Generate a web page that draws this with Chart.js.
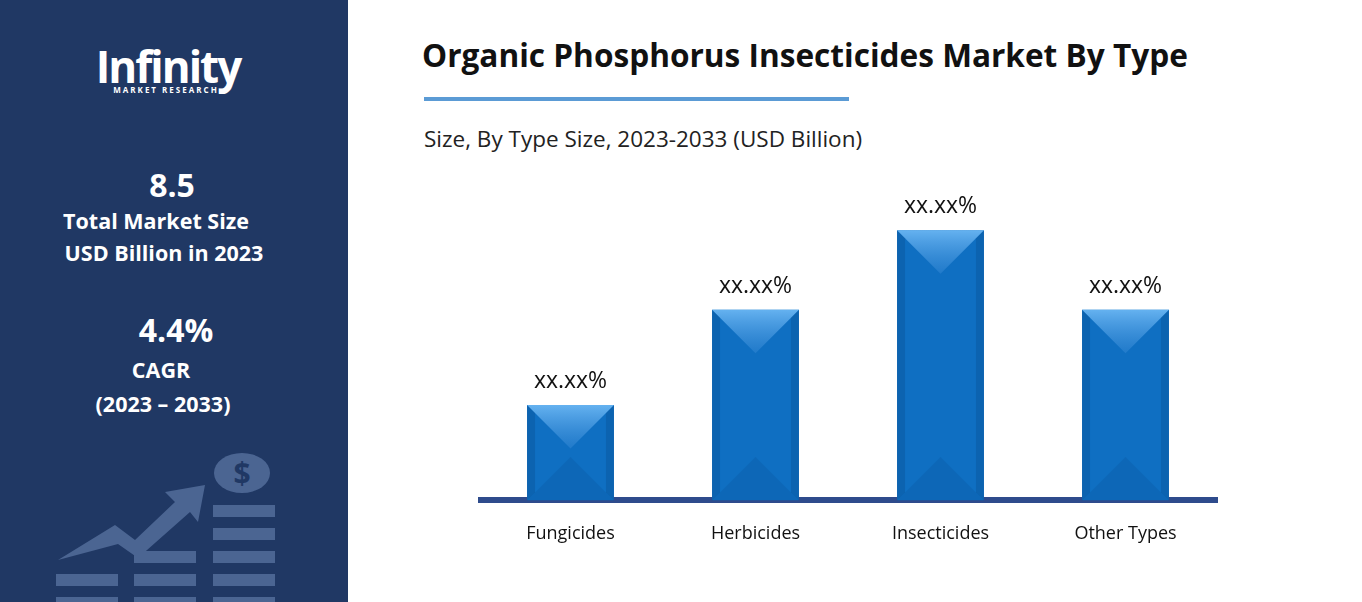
<!DOCTYPE html>
<html>
<head>
<meta charset="utf-8">
<script src="https://cdn.jsdelivr.net/npm/chart.js@4.4.0/dist/chart.umd.min.js"></script>
<style>
  body { margin: 0; width: 1362px; height: 602px; background: #fff; position: relative; overflow: hidden; font-family: "Open Sans", sans-serif; }
  #side { position: absolute; left: 0; top: 0; width: 348px; height: 602px; background: #203864; color: #fff; }
  #side .t { position: absolute; width: 100%; text-align: center; font-weight: bold; }
  #title { position: absolute; left: 422px; top: 33px; font-size: 31.6px; font-weight: bold; color: #111; }
  #rule { position: absolute; left: 424px; top: 97px; width: 425px; height: 4px; background: #5b9bd5; }
  #sub { position: absolute; left: 424px; top: 123px; font-size: 22.5px; color: #222; }
  #wrap { position: absolute; left: 478px; top: 180px; width: 740px; height: 380px; }
</style>
</head>
<body>
<div id="side">
  <div class="t" style="top:36px;left:-6px;font-size:44px;letter-spacing:-2px;">Infinity</div>
  <div class="t" style="top:84px;left:-8px;font-size:8px;letter-spacing:2px;">MARKET RESEARCH</div>
  <div class="t" style="top:163px;left:-2px;font-size:32px;">8.5</div>
  <div class="t" style="top:206px;left:-18px;font-size:21.5px;">Total Market Size</div>
  <div class="t" style="top:238px;left:-10px;font-size:21.5px;">USD Billion in 2023</div>
  <div class="t" style="top:308px;left:2px;font-size:32px;">4.4%</div>
  <div class="t" style="top:355px;left:-13px;font-size:21.5px;">CAGR</div>
  <div class="t" style="top:389px;left:-11px;font-size:21.5px;">(2023 – 2033)</div>
  <svg style="position:absolute;left:0;top:440px" width="348" height="162" fill="#4b6592">
    <ellipse cx="242" cy="33" rx="28" ry="20"/>
    <text x="242" y="44" text-anchor="middle" font-size="30" font-weight="bold" fill="#203864">$</text>
    <rect x="213" y="65" width="62" height="12"/><rect x="213" y="88" width="62" height="12"/>
    <rect x="213" y="111" width="62" height="12"/><rect x="213" y="134" width="62" height="12"/>
    <rect x="213" y="157" width="62" height="8"/>
    <rect x="134" y="111" width="62" height="12"/><rect x="134" y="134" width="62" height="12"/><rect x="134" y="157" width="62" height="8"/>
    <rect x="56" y="134" width="62" height="12"/><rect x="56" y="157" width="62" height="8"/>
    <polygon points="58,120 115,85 135,100 175,62 165,52 205,45 198,82 190,72 138,118 118,104"/>
  </svg>
</div>
<div id="title">Organic Phosphorus Insecticides Market By Type</div>
<div id="rule"></div>
<div id="sub">Size, By Type Size, 2023-2033 (USD Billion)</div>
<div id="wrap"><canvas id="myChart"></canvas></div>
<script>
const categories = ['Fungicides', 'Herbicides', 'Insecticides', 'Other Types'];
const values = [1.8, 3.6, 5.1, 3.6];
const valueLabels = ['xx.xx%', 'xx.xx%', 'xx.xx%', 'xx.xx%'];

const bevel = {
    id: 'bevel',
    afterDatasetsDraw(chart) {
        const ctx = chart.ctx;
        chart.getDatasetMeta(0).data.forEach((bar, i) => {
            const l = bar.x - bar.width / 2, r = bar.x + bar.width / 2, t = bar.y, b = bar.base;
            const d = Math.min(bar.width / 2, (b - t) / 2);
            const e = 8;
            ctx.save();
            const g = ctx.createLinearGradient(0, t, 0, t + d);
            g.addColorStop(0, 'rgba(110,185,245,0.9)');
            g.addColorStop(1, 'rgba(60,140,215,0.4)');
            ctx.fillStyle = g;
            ctx.beginPath(); ctx.moveTo(l, t); ctx.lineTo(r, t); ctx.lineTo(bar.x, t + d); ctx.closePath(); ctx.fill();
            ctx.fillStyle = 'rgba(0,40,90,0.16)';
            ctx.beginPath(); ctx.moveTo(l, t); ctx.lineTo(l + e, t + e); ctx.lineTo(l + e, b - e); ctx.lineTo(l, b); ctx.closePath(); ctx.fill();
            ctx.beginPath(); ctx.moveTo(r, t); ctx.lineTo(r - e, t + e); ctx.lineTo(r - e, b - e); ctx.lineTo(r, b); ctx.closePath(); ctx.fill();
            ctx.fillStyle = 'rgba(0,40,90,0.10)';
            ctx.beginPath(); ctx.moveTo(l, b); ctx.lineTo(r, b); ctx.lineTo(bar.x, b - d); ctx.closePath(); ctx.fill();
            ctx.fillStyle = '#111';
            ctx.font = '23px "Open Sans", sans-serif';
            ctx.textAlign = 'center';
            ctx.textBaseline = 'bottom';
            ctx.fillText(valueLabels[i], bar.x, t - 12);
            ctx.restore();
        });
    }
};

new Chart(document.getElementById('myChart').getContext('2d'), {
    type: 'bar',
    data: {
        labels: categories,
        datasets: [{
            data: values,
            backgroundColor: '#0f6fc2',
            borderWidth: 0,
            barPercentage: 0.47,
            categoryPercentage: 1
        }]
    },
    options: {
        responsive: true,
        maintainAspectRatio: false,
        animation: false,
        layout: { padding: 0 },
        plugins: { legend: { display: false }, tooltip: { enabled: false } },
        scales: {
            x: {
                grid: { display: false },
                border: { color: '#2e4b8c', width: 6 },
                ticks: { color: '#111', font: { family: 'Open Sans', size: 18 }, padding: 15 }
            },
            y: { display: false, min: 0, max: 6.05 }
        }
    },
    plugins: [bevel]
});
</script>
</body>
</html>
